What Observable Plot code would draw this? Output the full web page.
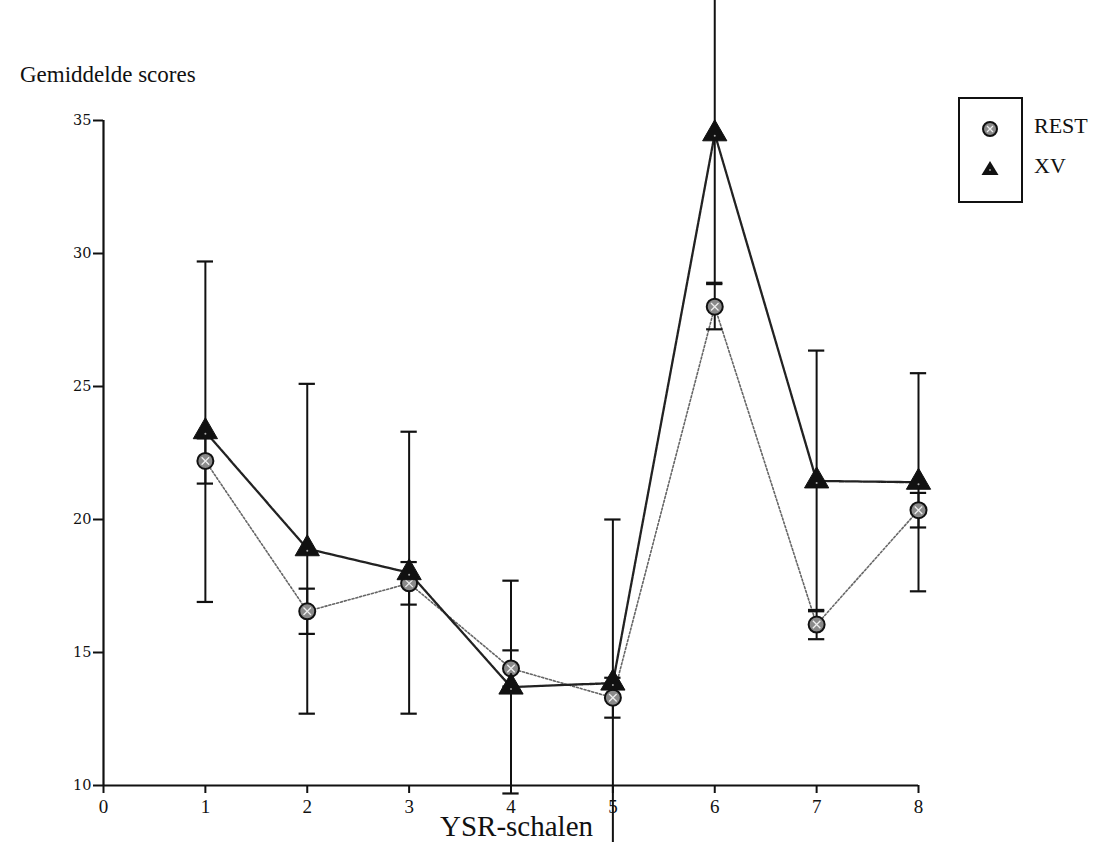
<!DOCTYPE html>
<html>
<head>
<meta charset="utf-8">
<script src="https://cdn.jsdelivr.net/npm/d3@7"></script>
<script src="https://cdn.jsdelivr.net/npm/@observablehq/plot@0.6"></script>
<style>
  html, body { margin: 0; padding: 0; background: white; }
  #wrap { position: relative; width: 1097px; height: 842px; overflow: hidden; font-family: "Liberation Serif", "DejaVu Serif", serif; }
  #chart { position: absolute; left: 0; top: 0; }
  .title { position: absolute; left: 20px; top: 62px; font-size: 23px; color: #111; white-space: nowrap; }
  .xlabel { position: absolute; left: 440px; top: 814px; font-size: 29px; line-height: 25px; color: #111; white-space: nowrap; }
  .legend { position: absolute; left: 958px; top: 97px; width: 61px; height: 102px; border: 2px solid #111; }
  .legtext { position: absolute; font-size: 22px; color: #111; white-space: nowrap; }
</style>
</head>
<body>
<div id="wrap">
  <div id="chart"></div>
  <div class="title">Gemiddelde scores</div>
  <div class="xlabel">YSR-schalen</div>
  <div class="legend">
    <svg width="61" height="102" style="position:absolute;left:0;top:0">
      <circle cx="30" cy="30" r="7" fill="#8a8a8a" stroke="#111" stroke-width="2"></circle>
      <path d="M27,27L33,33M33,27L27,33" stroke="#eee" stroke-width="1.3"></path>
      <path d="M30,62L38.5,76L21.5,76Z" fill="#111"></path>
      <circle cx="30" cy="71" r="0.9" fill="#aaa"></circle>
    </svg>
  </div>
  <div class="legtext" style="left:1034px; top:113px;">REST</div>
  <div class="legtext" style="left:1034px; top:153px;">XV</div>
</div>
<script>
// ---- data ----
const scales = [1, 2, 3, 4, 5, 6, 7, 8];
const restMean = [22.2, 16.55, 17.6, 14.4, 13.3, 28.0, 16.05, 20.35];
const restErr  = [0.85, 0.85, 0.8, 0.68, 0.75, 0.85, 0.55, 0.65];
const xvMean   = [23.3, 18.9, 18.0, 13.7, 13.85, 34.5, 21.45, 21.4];
const xvErr    = [6.4, 6.2, 5.3, 4.0, 6.15, 5.6, 4.9, 4.1];
const xTicks = [0, 1, 2, 3, 4, 5, 6, 7, 8];
const yTicks = [10, 15, 20, 25, 30, 35];

const rest = scales.map((x, i) => ({x, y: restMean[i], lo: restMean[i] - restErr[i], hi: restMean[i] + restErr[i]}));
const xv   = scales.map((x, i) => ({x, y: xvMean[i], lo: xvMean[i] - xvErr[i], hi: xvMean[i] + xvErr[i]}));
const capHalf = 0.08;

function errMarks(data) {
  return [
    Plot.ruleX(data, {x: "x", y1: "lo", y2: "hi", stroke: "#111", strokeWidth: 2}),
    Plot.ruleY(data, {y: "lo", x1: d => d.x - capHalf, x2: d => d.x + capHalf, stroke: "#111", strokeWidth: 2.2}),
    Plot.ruleY(data, {y: "hi", x1: d => d.x - capHalf, x2: d => d.x + capHalf, stroke: "#111", strokeWidth: 2.2})
  ];
}

const chart = Plot.plot({
  width: 1097,
  height: 842,
  marginTop: 120,
  marginBottom: 57,
  marginLeft: 103,
  marginRight: 179,
  x: {domain: [0, 8]},
  y: {domain: [10, 35]},
  style: {fontFamily: "'Liberation Serif', serif", color: "#111", background: "transparent"},
  marks: [
    Plot.axisX({ticks: xTicks, tickSize: 8, tickPadding: 6, fontSize: 19, label: null, strokeWidth: 2, tickFormat: d => String(d)}),
    Plot.axisY({ticks: yTicks, tickSize: 10, tickPadding: 2, fontSize: 14.5, label: null, strokeWidth: 2}),
    Plot.ruleY([10], {stroke: "#111", strokeWidth: 2.2}),
    Plot.ruleX([0], {stroke: "#111", strokeWidth: 2.2}),
    Plot.line(rest, {x: "x", y: "y", stroke: "#666", strokeWidth: 1.6, strokeDasharray: "2,2"}),
    Plot.line(xv, {x: "x", y: "y", stroke: "#222", strokeWidth: 2.3, strokeDasharray: "5,1"}),
    ...errMarks(xv),
    ...errMarks(rest),
    Plot.dot(rest, {x: "x", y: "y", r: 8, fill: "#8a8a8a", stroke: "#111", strokeWidth: 2}),
    Plot.dot(rest, {x: "x", y: "y", r: 3.5, symbol: "times", stroke: "#eee", strokeWidth: 1.3}),
    Plot.dot(xv, {x: "x", y: "y", r: 9, symbol: "triangle", fill: "#111", stroke: "#111", strokeWidth: 1}),
    Plot.dot(xv, {x: "x", y: "y", r: 1, fill: "#aaa", dy: 2})
  ]
});
// axis tick label fonts
d3.select(chart).selectAll("g").each(function() {
  const lab = this.getAttribute("aria-label") || "";
  if (lab === "x-axis tick label") {
    d3.select(this).selectAll("text").style("font-size", "19px");
  } else if (lab === "y-axis tick label") {
    d3.select(this).selectAll("text").style("font-size", "14.5px").style("font-family", "'DejaVu Serif', serif");
  }
});
document.getElementById("chart").appendChild(chart);
</script>
</body>
</html>
